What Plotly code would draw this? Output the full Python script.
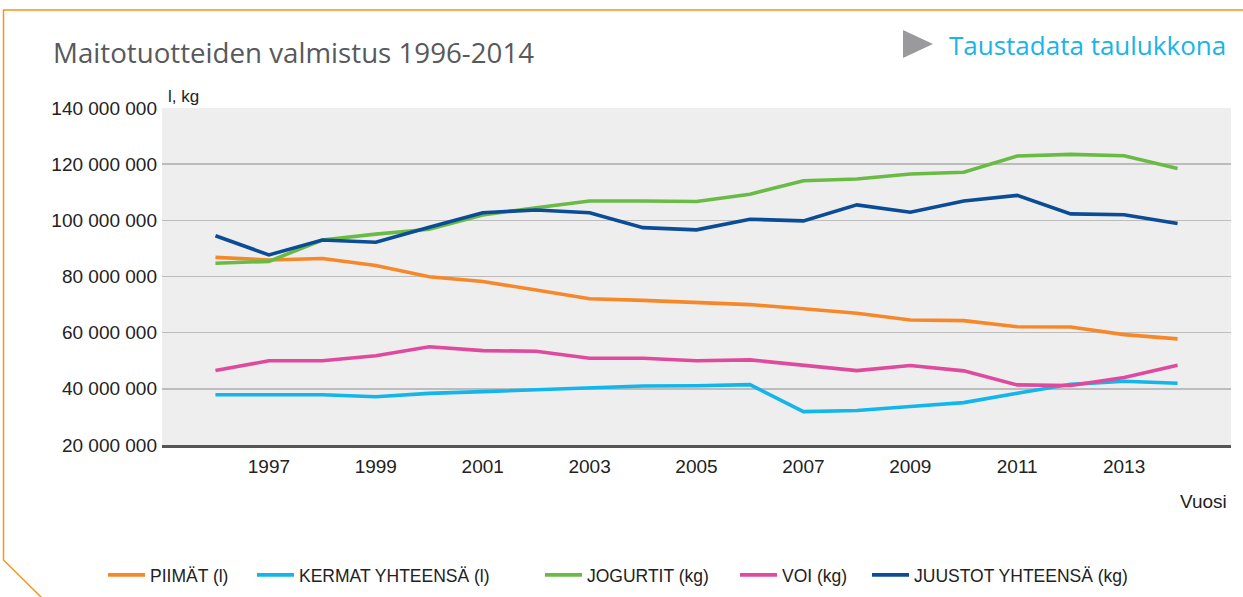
import plotly.graph_objects as go

# ---- data ----
years = list(range(1996, 2015))
piimat = [86.8, 85.9, 86.4, 83.9, 79.9, 78.2, 75.2, 72.1, 71.5, 70.8,
          70.0, 68.5, 66.9, 64.5, 64.3, 62.1, 62.0, 59.3, 57.8]
kermat = [37.9, 37.9, 37.9, 37.2, 38.4, 39.0, 39.6, 40.3, 41.0, 41.1,
          41.5, 31.9, 32.3, 33.7, 35.1, 38.4, 41.6, 42.7, 42.0]
jogurtit = [84.7, 85.4, 93.0, 95.1, 96.8, 101.9, 104.5, 106.9, 106.9, 106.7,
            109.3, 114.1, 114.7, 116.5, 117.1, 122.9, 123.5, 123.0, 118.5]
voi = [46.5, 50.0, 50.0, 51.8, 55.0, 53.6, 53.4, 50.9, 50.9, 50.0,
       50.3, 48.3, 46.5, 48.3, 46.4, 41.4, 41.2, 44.0, 48.4]
juustot = [94.5, 87.7, 93.0, 92.2, 97.5, 102.7, 103.7, 102.7, 97.4, 96.6,
           100.4, 99.8, 105.5, 102.9, 106.9, 108.9, 102.3, 102.0, 98.9]

series_names = ["PIIMÄT (l)", "KERMAT YHTEENSÄ (l)", "JOGURTIT (kg)", "VOI (kg)",
                "JUUSTOT YHTEENSÄ (kg)"]
series_values = [piimat, kermat, jogurtit, voi, juustot]
colors = ["#f7882a", "#12b6ea", "#6abb46", "#df4a9e", "#0b4c97"]
x_ticks = list(range(1997, 2014, 2))
y_ticks = [20e6, 40e6, 60e6, 80e6, 100e6, 120e6, 140e6]

title_text = "Maitotuotteiden valmistus 1996-2014"
link_text = "Taustadata taulukkona"
unit_text = "l, kg"
xaxis_text = "Vuosi"

# ---- geometry (pixels) ----
W, H = 1243, 597
L, R, T, B = 162, 1231, 108, 445
PW, PH = R - L, B - T


def px(x):
    return (x - L) / PW


def py(y):
    return (B - y) / PH


legend_x = [108, 257, 545, 740, 872]

fig = go.Figure()
legend_keys = ["legend", "legend2", "legend3", "legend4", "legend5"]
for name, vals, col, lk in zip(series_names, series_values, colors, legend_keys):
    fig.add_trace(go.Scatter(
        x=years, y=[v * 1e6 for v in vals], mode="lines", name=name,
        line=dict(color=col, width=3.6), legend=lk,
        hoverinfo="skip"))

font_axis = dict(family="Liberation Sans, Arial, sans-serif", size=19, color="#222222")
legend_font = dict(family="Liberation Sans, Arial, sans-serif", size=17.5, color="#222222")

layout_legends = {}
for lk, lx in zip(legend_keys, legend_x):
    layout_legends[lk] = dict(
        x=px(lx - 5), y=py(575), xanchor="left", yanchor="middle",
        orientation="h", bgcolor="rgba(0,0,0,0)", font=legend_font,
        itemwidth=37, tracegroupgap=0)

fig.update_layout(
    width=W, height=H,
    margin=dict(l=L, r=W - R, t=T, b=H - B, autoexpand=False),
    paper_bgcolor="white", plot_bgcolor="#eeeeee",
    separators=". ",
    showlegend=True,
    **layout_legends,
    xaxis=dict(
        range=[1995, 2015], tickvals=x_ticks, showgrid=False, zeroline=False,
        showline=True, linecolor="#555555", linewidth=2.5,
        ticks="", tickfont=font_axis, ticklabelstandoff=3, fixedrange=True),
    yaxis=dict(
        range=[20e6, 140e6], tickvals=y_ticks, tickformat=",d",
        showgrid=True, gridcolor="#bcbcbc", gridwidth=1.5, zeroline=False,
        showline=False, ticks="", tickfont=font_axis, ticklabelstandoff=4,
        fixedrange=True),
)

annotations = [
    dict(text=title_text, x=px(51), y=py(52), xanchor="left", yanchor="middle",
         font=dict(family="Open Sans, sans-serif", size=27.7, color="#58595b")),
    dict(text=link_text, x=px(947), y=py(45), xanchor="left", yanchor="middle",
         font=dict(family="Open Sans, sans-serif", size=26, color="#1ab4e6")),
    dict(text=unit_text, x=px(166), y=py(96), xanchor="left", yanchor="middle",
         font=dict(family="Liberation Sans, Arial, sans-serif", size=17, color="#222222")),
    dict(text=xaxis_text, x=px(1229), y=py(501), xanchor="right", yanchor="middle",
         font=font_axis),
]
for a in annotations:
    a.update(xref="paper", yref="paper", showarrow=False)
fig.update_layout(annotations=annotations)

# decorative frame and play triangle
frame_path = "M {:.5f} {:.5f} L {:.5f} {:.5f} L {:.5f} {:.5f} L {:.5f} {:.5f}".format(
    px(W + 2), py(10), px(3.5), py(10), px(3.5), py(560), px(42), py(598))
tri_path = "M {:.5f} {:.5f} L {:.5f} {:.5f} L {:.5f} {:.5f} Z".format(
    px(903), py(30), px(933), py(44), px(903), py(58))
fig.update_layout(shapes=[
    dict(type="path", path=frame_path, xref="paper", yref="paper",
         line=dict(color="#f7941d", width=1.5)),
    dict(type="path", path=tri_path, xref="paper", yref="paper",
         fillcolor="#9a9a9c", line=dict(width=0)),
])

fig.write_html("out.html",
               config={"displayModeBar": False, "staticPlot": True},
               post_script="document.body.style.margin='0';document.body.style.overflow='hidden';")
